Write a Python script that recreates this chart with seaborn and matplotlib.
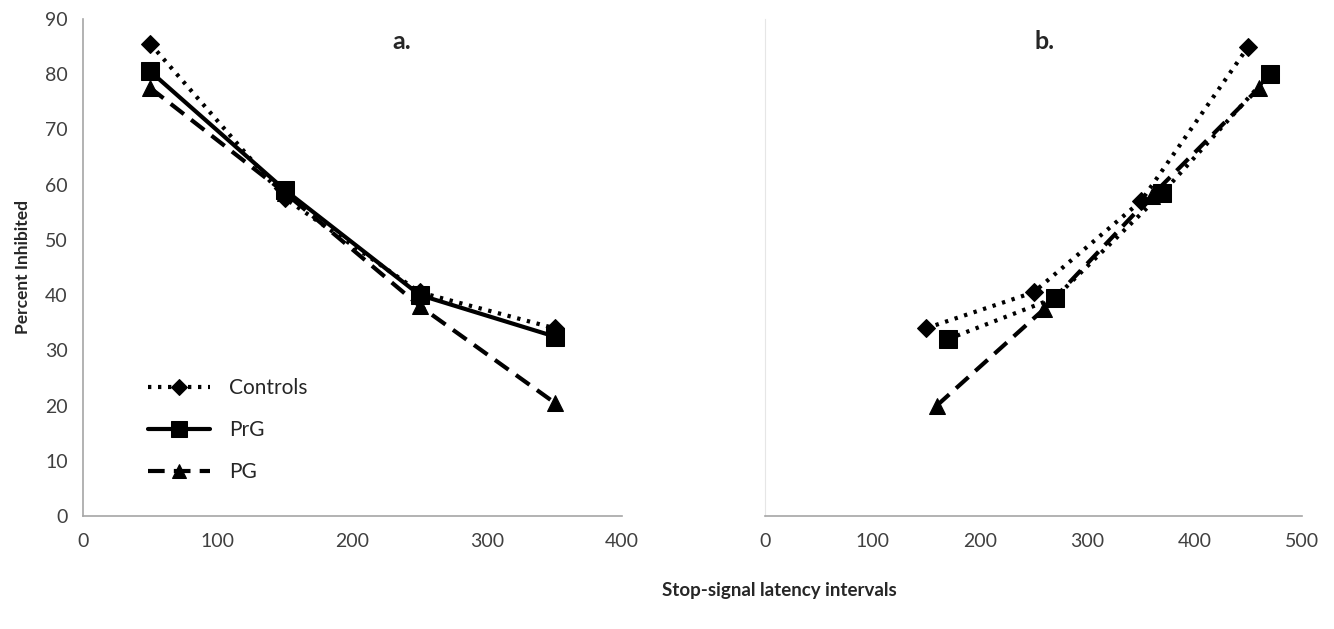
import matplotlib
matplotlib.use("Agg")
import matplotlib.pyplot as plt
import seaborn as sns
import pandas as pd

# ---- data ----
groups = ["Controls", "PrG", "PG"]
# panel a
a_x = [50, 150, 250, 350]
a_controls = [85.5, 57.5, 40.5, 34.0]
a_prg = [80.5, 59.0, 40.0, 32.5]
a_pg = [77.5, 58.5, 38.0, 20.5]
# panel b
b_x_controls = [150, 250, 350, 450]
b_x_prg = [170, 270, 370, 470]
b_x_pg = [160, 260, 360, 460]
b_controls = [34.0, 40.5, 57.0, 85.0]
b_prg = [32.0, 39.5, 58.5, 80.0]
b_pg = [20.0, 37.5, 58.0, 77.5]

y_ticks = [0, 10, 20, 30, 40, 50, 60, 70, 80, 90]
a_xticks = [0, 100, 200, 300, 400]
b_xticks = [0, 100, 200, 300, 400, 500]

sns.set_theme(style="white")
plt.rcParams["font.family"] = ["Lato", "DejaVu Sans"]

fig = plt.figure(figsize=(13.34, 6.29), dpi=100)
axA = fig.add_axes([0.0622, 0.1797, 0.4041, 0.7901])
axB = fig.add_axes([0.5735, 0.1797, 0.4025, 0.7901])

markers = {"Controls": "D", "PrG": "s", "PG": "^"}
msizes = {"Controls": 9, "PrG": 13, "PG": 12}

dot = (0, (0.8, 1.6))
styles_a = {"Controls": dot, "PrG": "-", "PG": (0, (4, 2.2))}
styles_b = {"Controls": dot, "PrG": dot, "PG": (0, (4, 2.2))}

a_data = {"Controls": (a_x, a_controls), "PrG": (a_x, a_prg), "PG": (a_x, a_pg)}
b_data = {"Controls": (b_x_controls, b_controls), "PrG": (b_x_prg, b_prg), "PG": (b_x_pg, b_pg)}

for g in groups:
    xs, ys = a_data[g]
    df = pd.DataFrame({"x": xs, "y": ys})
    sns.lineplot(data=df, x="x", y="y", ax=axA, color="black", linestyle=styles_a[g],
                 marker=markers[g], markersize=msizes[g], markeredgecolor="black",
                 markerfacecolor="black", linewidth=3.0, label=g, legend=False)
    xs, ys = b_data[g]
    df = pd.DataFrame({"x": xs, "y": ys})
    sns.lineplot(data=df, x="x", y="y", ax=axB, color="black", linestyle=styles_b[g],
                 marker=markers[g], markersize=msizes[g], markeredgecolor="black",
                 markerfacecolor="black", linewidth=3.0, legend=False)

spine_col = "#a6a6a6"
tick_col = "#404040"
for ax, xt, xmax in [(axA, a_xticks, 400), (axB, b_xticks, 500)]:
    ax.set_xlim(0, xmax)
    ax.set_ylim(0, 90)
    ax.set_xticks(xt)
    ax.set_xticklabels([str(v) for v in xt], fontsize=14, color=tick_col)
    ax.set_xlabel("")
    ax.set_ylabel("")
    for s in ["top", "right"]:
        ax.spines[s].set_visible(False)
    ax.spines["bottom"].set_color(spine_col)
    ax.spines["bottom"].set_linewidth(1.2)
    ax.spines["left"].set_color(spine_col)
    ax.spines["left"].set_linewidth(1.2)
    ax.tick_params(axis="x", direction="out", length=5, width=1.2, color=spine_col, pad=7)
    ax.set_facecolor("white")
    ax.patch.set_alpha(0)

axA.set_yticks(y_ticks)
axA.set_yticklabels([str(v) for v in y_ticks], fontsize=14, color=tick_col)
axA.tick_params(axis="y", direction="out", length=5, width=1.2, color=spine_col, pad=6)
axB.set_yticks([])
axB.spines["left"].set_color("#e6e6e6")
axB.spines["left"].set_linewidth(0.8)

axA.set_ylabel("Percent Inhibited", fontsize=12.5, fontweight="bold", labelpad=10)
axA.text(0.592, 0.955, "a.", transform=axA.transAxes, ha="center", va="center",
         fontsize=18, fontweight="bold")
axB.text(0.52, 0.955, "b.", transform=axB.transAxes, ha="center", va="center",
         fontsize=18, fontweight="bold")

leg = axA.legend(loc="upper left", bbox_to_anchor=(0.085, 0.315), frameon=False,
                 fontsize=15, handlelength=3.0, labelspacing=1.05, handletextpad=0.9,
                 markerscale=0.85)

fig.text(0.584, 0.061, "Stop-signal latency intervals", ha="center", va="center",
         fontsize=13.5, fontweight="bold")

fig.savefig("out.png", dpi=100, facecolor="white")
